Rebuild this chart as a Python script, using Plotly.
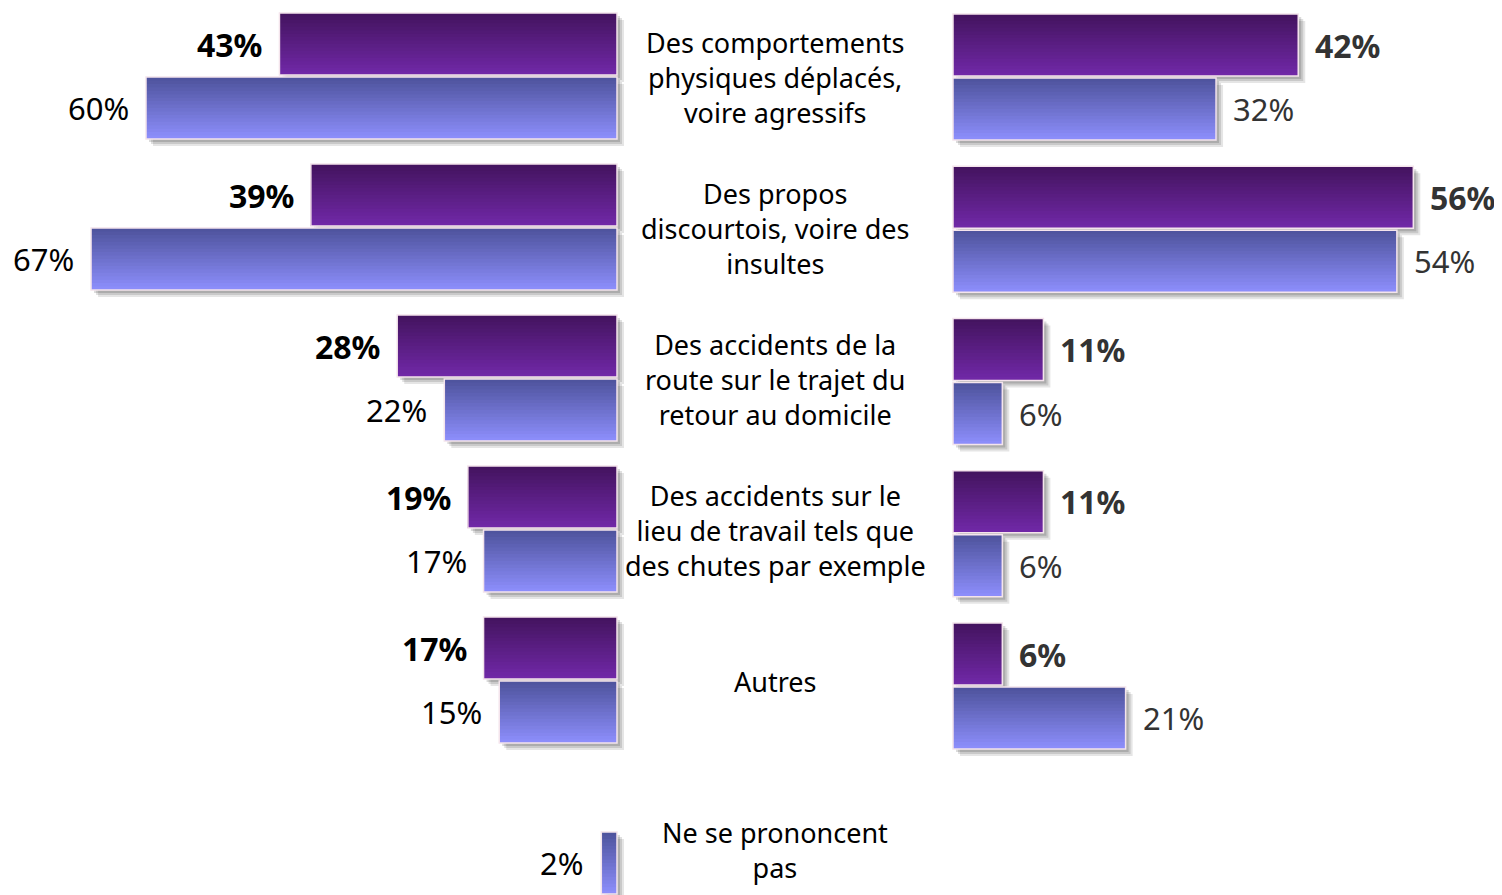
import plotly.graph_objects as go

# ── Data ──────────────────────────────────────────────────────────────────────
CATEGORIES = [
    "Des comportements<br>physiques déplacés,<br>voire agressifs",
    "Des propos<br>discourtois, voire des<br>insultes",
    "Des accidents de la<br>route sur le trajet du<br>retour au domicile",
    "Des accidents sur le<br>lieu de travail tels que<br>des chutes par exemple",
    "Autres",
    "Ne se prononcent<br>pas",
]
LEFT_DARK = [43, 39, 28, 19, 17, None]
LEFT_LIGHT = [60, 67, 22, 17, 15, 2]
RIGHT_DARK = [42, 56, 11, 11, 6]
RIGHT_LIGHT = [32, 54, 6, 6, 21]

# ── Style ─────────────────────────────────────────────────────────────────────
W, H = 1502, 895
PAGE = 8                      # default body margin of the html page
FW, FH = W - PAGE, H - PAGE   # figure size
FONT = "Noto Sans"
DARK_TOP, DARK_BOT = (0x44, 0x14, 0x60), (0x70, 0x28, 0xA6)
LIGHT_TOP, LIGHT_BOT = (0x4F, 0x54, 0x9E), (0x8C, 0x8D, 0xFA)
BORDER = "#f4e4ec"
N_BANDS = 18

BAR_PX = 62     # bar thickness
STEP_PX = 64    # dark -> light offset

# panel geometry in page pixels
LEFT = dict(zero=617, ppu=7.85, dom=(PAGE, 632), top=13, period=151.0)
RIGHT = dict(zero=953, ppu=8.22, dom=(940, W), top=14, period=152.25)


def mix(a, b, t):
    return "rgb(%d,%d,%d)" % tuple(round(a[i] + (b[i] - a[i]) * t) for i in range(3))


def add_bar(fig, vals, ypos, off, g, xa, ya, side, top, bot):
    per = g["period"]
    thick = BAR_PX / per
    dxu = 1.0 / g["ppu"]
    sgn = -1 if side == "left" else 1
    # soft shadow
    for k, a in [(7, 0.10), (5, 0.12), (3, 0.14)]:
        fig.add_trace(go.Bar(
            x=vals, y=ypos, orientation="h", base=sgn * k * dxu,
            offset=off + k / per, width=thick,
            marker=dict(color=f"rgba(0,0,0,{a})", line=dict(width=0)),
            xaxis=xa, yaxis=ya, hoverinfo="skip", showlegend=False,
        ))
    # vertical gradient built from stacked bands
    for k in range(N_BANDS):
        t = k / (N_BANDS - 1)
        fig.add_trace(go.Bar(
            x=vals, y=ypos, orientation="h",
            offset=off + thick * k / N_BANDS, width=thick * (1 - k / N_BANDS),
            marker=dict(color=mix(top, bot, t), line=dict(width=0)),
            xaxis=xa, yaxis=ya, hoverinfo="skip", showlegend=False,
        ))
    # thin light border
    fig.add_trace(go.Bar(
        x=vals, y=ypos, orientation="h", offset=off, width=thick,
        marker=dict(color="rgba(0,0,0,0)", line=dict(color=BORDER, width=1.5)),
        xaxis=xa, yaxis=ya, hoverinfo="skip", showlegend=False,
    ))


def add_labels(fig, vals, ypos, off, g, xa, ya, side, bold, color):
    per = g["period"]
    for v, y in zip(vals, ypos):
        if v is None:
            continue
        txt = f"<b>{v}%</b>" if bold else f"{v}%"
        fig.add_annotation(
            x=v, y=y + off + BAR_PX / per / 2, xref=xa, yref=ya,
            text=txt, showarrow=False,
            xanchor="right" if side == "left" else "left",
            xshift=-15 if side == "left" else 15,
            yanchor="middle",
            font=dict(family=FONT, size=32 if bold else 31, color=color),
        )


fig = go.Figure()

panels = [
    ("left", LEFT, LEFT_DARK, LEFT_LIGHT, "x", "y", "#000000"),
    ("right", RIGHT, RIGHT_DARK, RIGHT_LIGHT, "x2", "y2", "#333333"),
]
for side, g, dark, light, xa, ya, tcol in panels:
    ypos = list(range(len(light)))
    step = STEP_PX / g["period"]
    add_bar(fig, dark, ypos, 0, g, xa, ya, side, DARK_TOP, DARK_BOT)
    add_bar(fig, light, ypos, step, g, xa, ya, side, LIGHT_TOP, LIGHT_BOT)
    add_labels(fig, dark, ypos, 0, g, xa, ya, side, True, tcol)
    add_labels(fig, light, ypos, step, g, xa, ya, side, False, tcol)

# centre category labels
for i, cat in enumerate(CATEGORIES):
    single = LEFT_DARK[i] is None
    fig.add_annotation(
        x=(775 - PAGE) / FW, xref="paper", y=i + (0.54 if single else 0.43), yref="y",
        text=cat, showarrow=False, xanchor="center", yanchor="middle",
        align="center", font=dict(family=FONT, size=27, color="#000000"),
    )


def yrange(g):
    # pixel rows PAGE..H of the page map onto the figure
    return [(H - g["top"]) / g["period"], (PAGE - g["top"]) / g["period"]]


def xdom(g):
    return [(g["dom"][0] - PAGE) / FW, (g["dom"][1] - PAGE) / FW]


L, R = LEFT, RIGHT
fig.update_layout(
    width=FW, height=FH,
    margin=dict(l=0, r=0, t=0, b=0),
    paper_bgcolor="white", plot_bgcolor="rgba(0,0,0,0)",
    barmode="overlay", showlegend=False,
    xaxis=dict(domain=xdom(L),
               range=[(L["zero"] - L["dom"][0]) / L["ppu"], -(L["dom"][1] - L["zero"]) / L["ppu"]],
               visible=False, fixedrange=True),
    yaxis=dict(domain=[0, 1], range=yrange(L), visible=False, fixedrange=True),
    xaxis2=dict(domain=xdom(R),
                range=[-(R["zero"] - R["dom"][0]) / R["ppu"], (W - R["zero"]) / R["ppu"]],
                anchor="y2", visible=False, fixedrange=True),
    yaxis2=dict(domain=[0, 1], range=yrange(R), anchor="x2",
                visible=False, fixedrange=True),
)

fig.write_html("out.html")
